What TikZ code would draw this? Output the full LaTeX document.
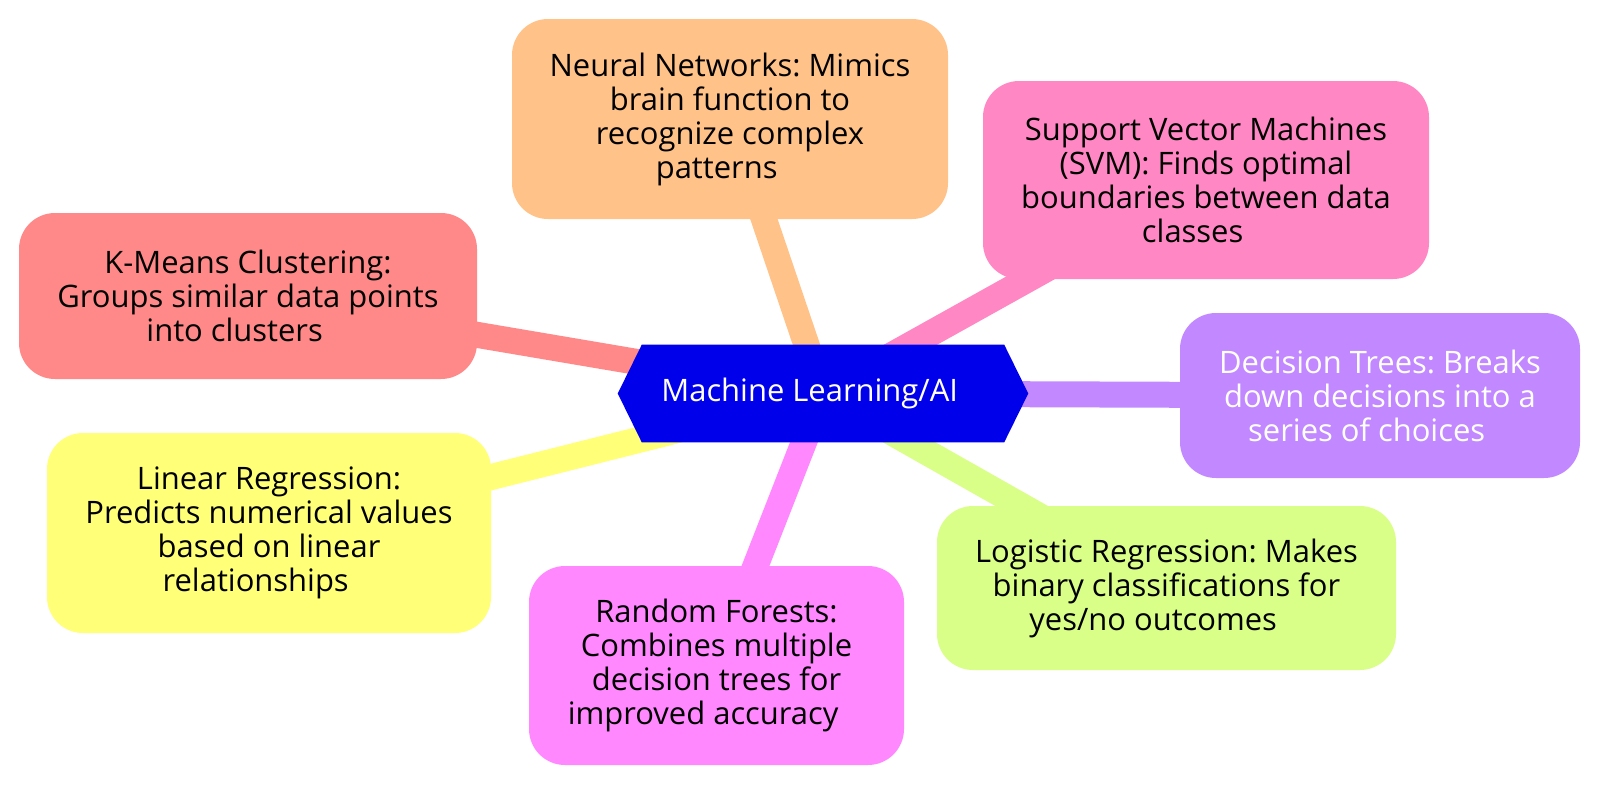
\documentclass[tikz,border=0pt]{standalone}
\usepackage{fontspec}
\setmainfont{Open Sans}
\usetikzlibrary{backgrounds}

\definecolor{rootblue}{RGB}{0,0,235}
\definecolor{kmred}{RGB}{255,136,136}
\definecolor{nnorange}{RGB}{255,194,136}
\definecolor{svmpink}{RGB}{255,136,196}
\definecolor{dtpurple}{RGB}{194,136,255}
\definecolor{lglime}{RGB}{218,255,136}
\definecolor{rfmagenta}{RGB}{255,136,255}
\definecolor{lnyellow}{RGB}{255,255,120}

\begin{document}
\begin{tikzpicture}[x=0.75pt, y=-0.75pt, every node/.style={font=\fontsize{23.2}{25.5}\selectfont\frenchspacing, align=center, inner sep=0pt}, topic/.style={rounded corners=27pt, text=black}, hub/.style={text=white, minimum width=307.5pt, minimum height=72.75pt}, branch/.style={line width=19.5pt}]
		\useasboundingbox (0,0) rectangle (1600,786);

		\node[hub] (ml) at (823,393.5) {Machine Learning/AI\kern20pt};

		\node[topic, fill=kmred, minimum width=343.5pt, minimum height=124.5pt] (kmeans) at (248,296) {K-Means Clustering:\\Groups similar data points\\into clusters\kern20pt};
		\node[topic, fill=nnorange, minimum width=327pt, minimum height=150pt] (neural) at (730,119) {Neural Networks: Mimics\\brain function to\\recognize complex\\patterns\kern20pt};
		\node[topic, fill=svmpink, minimum width=334.5pt, minimum height=148.5pt] (svm) at (1206,180) {Support Vector Machines\\(SVM): Finds optimal\\boundaries between data\\classes\kern20pt};
		\node[topic, fill=dtpurple, text=white, minimum width=300pt, minimum height=123.75pt] (dtree) at (1380,395.5) {Decision Trees: Breaks\\down decisions into a\\series of choices\kern20pt};
		\node[topic, fill=lglime, minimum width=344.25pt, minimum height=123pt] (logreg) at (1166.5,588) {Logistic Regression: Makes\\binary classifications for\\yes/no outcomes\kern20pt};
		\node[topic, fill=rfmagenta, minimum width=281.25pt, minimum height=149.25pt] (forest) at (716.5,665.5) {Random Forests:\\Combines multiple\\decision trees for\\improved accuracy\kern20pt};
		\node[topic, fill=lnyellow, minimum width=333pt, minimum height=150pt] (linreg) at (269,533) {Linear Regression:\\Predicts numerical values\\based on linear\\relationships\kern20pt};

		\begin{scope}[on background layer]
		\draw[branch, kmred] (ml.center) -- (kmeans.center);
		\draw[branch, nnorange] (ml.center) -- (neural.center);
		\draw[branch, svmpink] (ml.center) -- (svm.center);
		\draw[branch, dtpurple] (ml.center) -- (dtree.center);
		\draw[branch, lglime] (ml.center) -- (logreg.center);
		\draw[branch, rfmagenta] (ml.center) -- (forest.center);
		\draw[branch, lnyellow] (ml.center) -- (linreg.center);
		% hexagon behind the hub text
		\fill[rootblue] (ml.west) -- ([xshift=18pt]ml.north west) -- ([xshift=-18pt]ml.north east) -- (ml.east) -- ([xshift=-18pt]ml.south east) -- ([xshift=18pt]ml.south west) -- cycle;
		\end{scope}
	\end{tikzpicture}
\end{document}
